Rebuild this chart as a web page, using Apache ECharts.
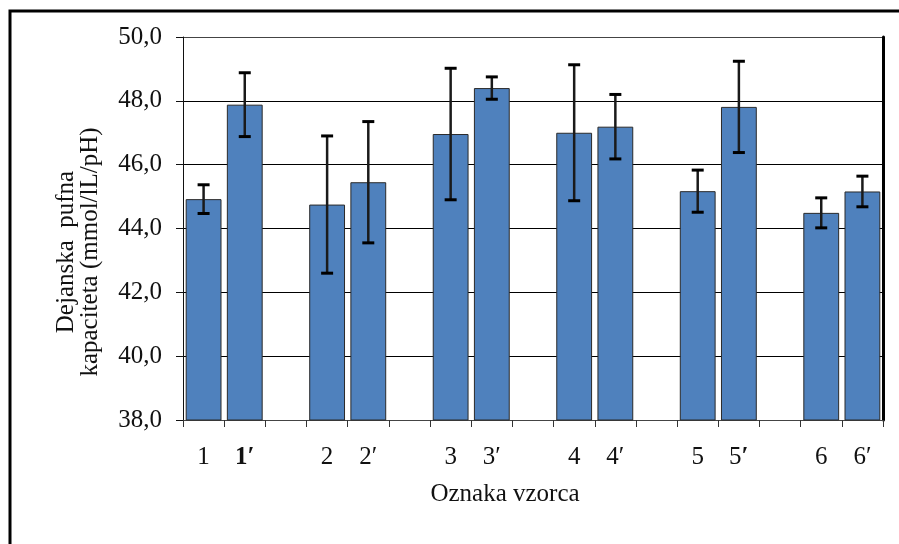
<!DOCTYPE html>
<html>
<head>
<meta charset="utf-8">
<script src="https://cdn.jsdelivr.net/npm/echarts@6/dist/echarts.min.js"></script>
<style>
  html, body { margin: 0; padding: 0; background: #fff; }
  #chart { width: 899px; height: 544px; }
</style>
</head>
<body>
<div id="chart"></div>
<script>
// Sample labels; empty slots leave the gap between each pair of samples
const categories = ['1', '1′', '', '2', '2′', '', '3', '3′', '', '4', '4′', '', '5', '5′', '', '6', '6′'];
// Effective buffer capacity (mmol/lL/pH), mean per sample
const capacity = [44.92, 47.88, null, 44.75, 45.45, null, 46.96, 48.40, null, 47.00, 47.19, null, 45.17, 47.81, null, 44.49, 45.16];
// Standard deviation per sample (error bar half-length)
const deviation = [0.45, 1.00, null, 2.15, 1.90, null, 2.06, 0.35, null, 2.13, 1.01, null, 0.66, 1.43, null, 0.47, 0.48];
// Value axis ticks
const yTicks = [38, 40, 42, 44, 46, 48, 50];

const FONT = '"Liberation Serif", "Times New Roman", serif';
const INK = '#111';
const SIZE = 25;

const errorData = capacity
  .map((v, i) => (v == null ? null : [i, v - deviation[i], v + deviation[i]]))
  .filter(d => d);

const chart = echarts.init(document.getElementById('chart'), null, { renderer: 'canvas' });

chart.setOption({
  animation: false,
  backgroundColor: '#fff',
  grid: { left: 183, right: 16, top: 37, bottom: 124, containLabel: false },
  graphic: [
    {
      type: 'rect',
      shape: { x: 10, y: 11, width: 1200, height: 1200 },
      style: { fill: 'none', stroke: '#000', lineWidth: 3 },
      silent: true, z: 0
    },
    {
      type: 'text',
      x: 78, y: 252,
      rotation: Math.PI / 2,
      style: {
        text: 'Dejanska  pufna\nkapaciteta (mmol/lL/pH)',
        font: SIZE + 'px ' + FONT,
        fill: INK,
        align: 'center',
        verticalAlign: 'middle',
        lineHeight: 24
      }
    },
    {
      type: 'text',
      x: 505, y: 494,
      style: {
        text: 'Oznaka vzorca',
        font: SIZE + 'px ' + FONT,
        fill: INK,
        align: 'center',
        verticalAlign: 'middle'
      }
    }
  ],
  xAxis: {
    type: 'category',
    data: categories,
    boundaryGap: true,
    axisLine: { show: true, lineStyle: { color: '#444', width: 1 } },
    axisTick: { show: true, length: 7, alignWithLabel: false, interval: 0, lineStyle: { color: '#333' } },
    axisLabel: {
      interval: 0,
      margin: 25,
      color: INK,
      fontFamily: FONT,
      fontSize: SIZE,
      formatter: (v) => {
        if (v === '1′') return '{b|1′}';
        if (v === '5′') return '5{b|′}';
        return v;
      },
      rich: { b: { fontFamily: FONT, fontSize: SIZE, fontWeight: 'bold', color: INK } }
    },
    splitLine: { show: false }
  },
  yAxis: [
    {
      type: 'value',
      min: yTicks[0],
      max: yTicks[yTicks.length - 1],
      interval: 2,
      axisLine: { show: true, lineStyle: { color: '#111', width: 1 } },
      axisTick: { show: true, inside: false, length: 7, lineStyle: { color: '#111' } },
      axisLabel: {
        margin: 21,
        color: INK,
        fontFamily: FONT,
        fontSize: SIZE,
        formatter: (v) => v.toFixed(1).replace('.', ',')
      },
      splitLine: {
        show: true,
        lineStyle: { color: ['#000', '#000', '#000', '#000', '#000', '#000', '#444'], width: 1 }
      }
    },
    {
      type: 'value',
      position: 'right',
      min: yTicks[0],
      max: yTicks[yTicks.length - 1],
      interval: 2,
      axisLine: { show: true, lineStyle: { color: '#000', width: 3 } },
      axisTick: { show: false },
      axisLabel: { show: false },
      splitLine: { show: false }
    }
  ],
  series: [
    {
      type: 'bar',
      data: capacity,
      barWidth: '87%',
      itemStyle: { color: '#4F81BD', borderColor: '#2a2a2a', borderWidth: 1 },
      z: 2
    },
    {
      type: 'custom',
      data: errorData,
      z: 3,
      renderItem: (params, api) => {
        const x = api.value(0);
        const lo = api.coord([x, api.value(1)]);
        const hi = api.coord([x, api.value(2)]);
        const half = 6;
        return {
          type: 'group',
          children: [
            { type: 'line', shape: { x1: lo[0], y1: lo[1], x2: hi[0], y2: hi[1] },
              style: { stroke: '#1a1a1a', lineWidth: 2.5 } },
            { type: 'line', shape: { x1: hi[0] - half, y1: hi[1], x2: hi[0] + half, y2: hi[1] },
              style: { stroke: '#000', lineWidth: 3 } },
            { type: 'line', shape: { x1: lo[0] - half, y1: lo[1], x2: lo[0] + half, y2: lo[1] },
              style: { stroke: '#000', lineWidth: 3 } }
          ]
        };
      }
    }
  ]
});
</script>
</body>
</html>
